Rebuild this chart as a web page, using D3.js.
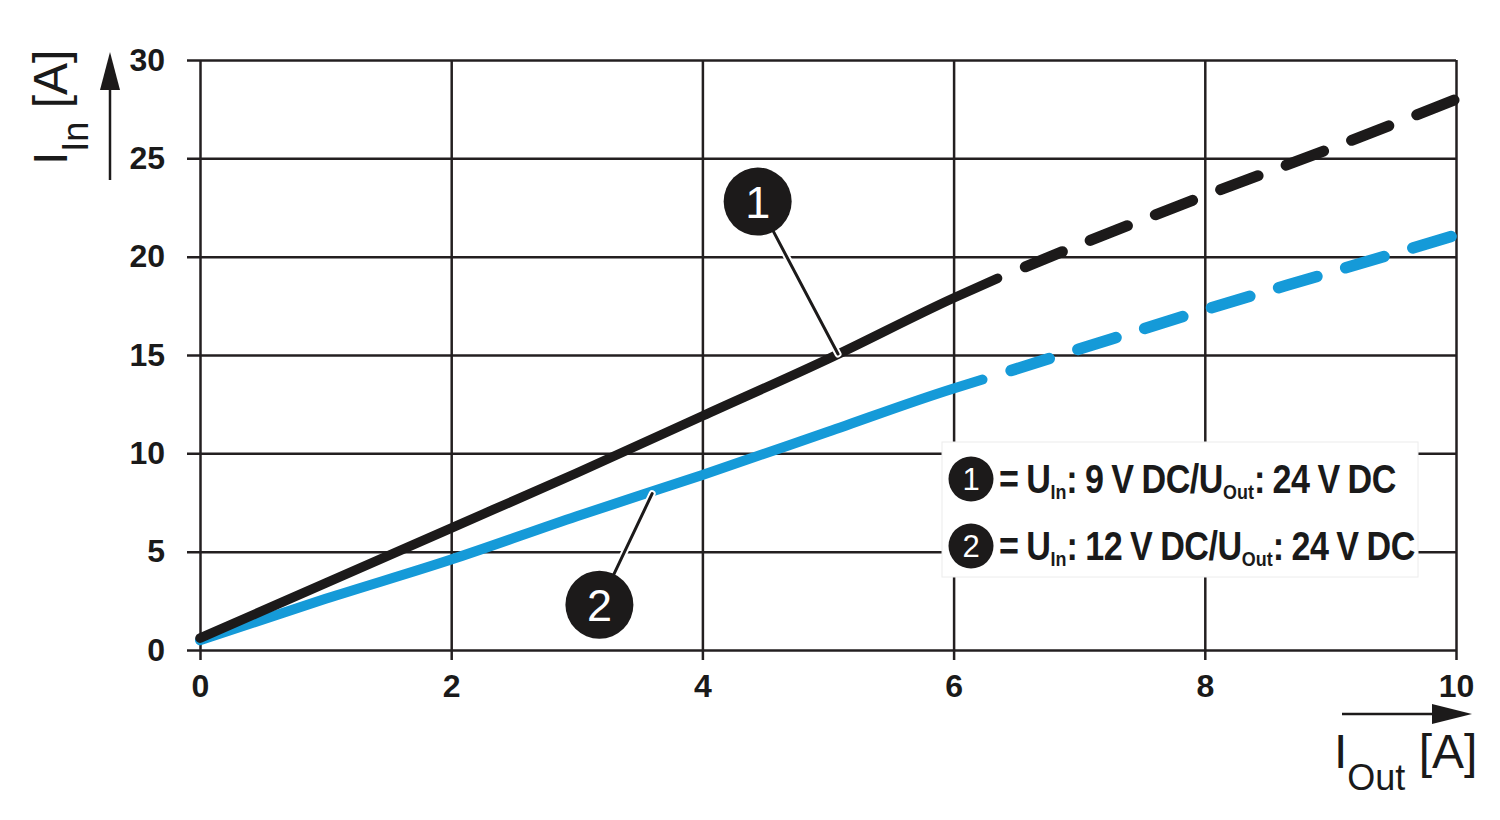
<!DOCTYPE html>
<html>
<head>
<meta charset="utf-8">
<script src="https://cdn.jsdelivr.net/npm/d3@7"></script>
<style>
  html, body { margin: 0; padding: 0; background: #fff; }
  svg { display: block; font-family: "Liberation Sans", Arial, Helvetica, sans-serif; }
</style>
</head>
<body>
<svg id="chart" width="1500" height="820"></svg>
<script>
// ---- data ----
const xTicks = [0, 2, 4, 6, 8, 10];
const yTicks = [0, 5, 10, 15, 20, 25, 30];

// Series 1: U_In 9 V DC / U_Out 24 V DC (black)
const s1Solid = [[0, 0.6], [1, 3.4], [2, 6.2], [3, 9.0], [4, 11.9], [5, 14.8], [6, 17.9], [6.35, 18.9]];
const s1Dashed = [[6.35, 18.9], [7, 20.6], [8, 23.1], [9, 25.5], [10, 28.0]];
// Series 2: U_In 12 V DC / U_Out 24 V DC (blue)
const s2Solid = [[0, 0.5], [1, 2.6], [2, 4.6], [3, 6.8], [4, 8.9], [5, 11.1], [6, 13.3], [6.23, 13.75]];
const s2Dashed = [[6.23, 13.75], [7, 15.3], [8, 17.3], [9, 19.2], [10, 21.1]];

const seriesLabels = ["1", "2"];
const legendIn = ["9", "12"];
// callouts: label, circle position (data), leader end on curve (data)
const callouts = [
  { label: "1", cx: 4.44, cy: 22.8, px: 5.08, py: 15.05 },
  { label: "2", cx: 3.18, cy: 2.3, px: 3.6, py: 7.95 }
];

// ---- layout ----
const svg = d3.select("#chart");
const x = d3.scaleLinear().domain([0, 10]).range([200, 1456]);
const y = d3.scaleLinear().domain([0, 30]).range([650, 60]);
const gridColor = "#231f20";
const black = "#1c1a1a";
const blue = "#159ad8";
const font = '"Liberation Sans", Arial, Helvetica, sans-serif';

// horizontal grid lines (extend 13px left of the axis)
const hg = svg.append("g").attr("transform", `translate(${x(0) - 13},0)`)
  .call(d3.axisRight(y).tickValues(yTicks).tickSize(x(10) - x(0) + 13).tickFormat(""));
hg.select(".domain").remove();
hg.selectAll(".tick line").attr("stroke", gridColor).attr("stroke-width", 2.5);

// vertical grid lines (extend 10px below the axis)
const vg = svg.append("g").attr("transform", `translate(0,${y(0) + 10})`)
  .call(d3.axisTop(x).tickValues(xTicks).tickSize(y(0) - y(30) + 10).tickFormat(""));
vg.select(".domain").remove();
vg.selectAll(".tick line").attr("stroke", gridColor).attr("stroke-width", 2.5);

// tick labels
const yl = svg.append("g").attr("transform", `translate(${x(0)},0)`)
  .call(d3.axisLeft(y).tickValues(yTicks).tickSize(0).tickPadding(35));
yl.select(".domain").remove();
yl.selectAll("text").attr("font-family", font).attr("font-size", 32).attr("font-weight", "bold").attr("fill", "#1a1a1a");

const xl = svg.append("g").attr("transform", `translate(0,${y(0)})`)
  .call(d3.axisBottom(x).tickValues(xTicks).tickSize(0).tickPadding(24));
xl.select(".domain").remove();
xl.selectAll("text").attr("font-family", font).attr("font-size", 32).attr("font-weight", "bold").attr("fill", "#1a1a1a");

// curves
const line = d3.line().x(d => x(d[0])).y(d => y(d[1])).curve(d3.curveMonotoneX);
function drawSeries(solid, dashed, color, w) {
  svg.append("path").datum(solid).attr("d", line).attr("fill", "none")
    .attr("stroke", color).attr("stroke-width", w).attr("stroke-linecap", "round");
  svg.append("path").datum(dashed).attr("d", line).attr("fill", "none")
    .attr("stroke", color).attr("stroke-width", w + 1.5).attr("stroke-linecap", "round")
    .attr("stroke-dasharray", "40 30").attr("stroke-dashoffset", -30);
}
drawSeries(s2Solid, s2Dashed, blue, 10);
drawSeries(s1Solid, s1Dashed, black, 9.5);

// callouts
callouts.forEach(c => {
  const cx = x(c.cx), cy = y(c.cy), px = x(c.px), py = y(c.py);
  const ang = Math.atan2(py - cy, px - cx);
  const sx = cx + Math.cos(ang) * 30, sy = cy + Math.sin(ang) * 30;
  svg.append("line").attr("x1", sx).attr("y1", sy).attr("x2", px).attr("y2", py)
    .attr("stroke", "#fff").attr("stroke-width", 7).attr("stroke-linecap", "round");
  svg.append("line").attr("x1", sx).attr("y1", sy).attr("x2", px).attr("y2", py)
    .attr("stroke", black).attr("stroke-width", 3).attr("stroke-linecap", "round");
  svg.append("circle").attr("cx", cx).attr("cy", cy).attr("r", 34).attr("fill", black);
  svg.append("text").attr("x", cx).attr("y", cy + 16).attr("text-anchor", "middle")
    .attr("font-family", font).attr("font-size", 45).attr("fill", "#fff").text(c.label);
});

// legend
const lg = svg.append("g");
lg.append("rect").attr("x", 942).attr("y", 442).attr("width", 476).attr("height", 135)
  .attr("fill", "#fff").attr("stroke", "#ececec").attr("stroke-width", 1);
seriesLabels.forEach((lab, i) => {
  const cy = 479 + i * 67;
  lg.append("circle").attr("cx", 971).attr("cy", cy).attr("r", 22.5).attr("fill", black);
  lg.append("text").attr("x", 971).attr("y", cy + 11).attr("text-anchor", "middle")
    .attr("font-family", font).attr("font-size", 31).attr("fill", "#fff").text(lab);
  const tg = lg.append("g").attr("transform", `translate(999,${cy + 14})`);
  const t = tg.append("text").attr("font-family", font).attr("font-weight", "bold")
    .attr("font-size", 40).attr("fill", "#1a1a1a")
    .attr("letter-spacing", -0.5).attr("word-spacing", -1.5);
  t.append("tspan").text("= U");
  t.append("tspan").attr("font-size", 21).attr("letter-spacing", 0).attr("dy", 6).text("In");
  t.append("tspan").attr("dy", -6).text(`: ${legendIn[i]} V DC/U`);
  t.append("tspan").attr("font-size", 21).attr("letter-spacing", 0).attr("dy", 6).text("Out");
  t.append("tspan").attr("dy", -6).text(": 24 V DC");
  const w = t.node().getBBox().width;
  const target = i === 0 ? 397 : 416;
  t.attr("transform", `scale(${target / w},1)`);
});

// axis titles
const yTitle = svg.append("text").attr("transform", "translate(67,165) rotate(-90)")
  .attr("font-family", font).attr("font-size", 48).attr("fill", "#1a1a1a");
yTitle.append("tspan").text("I");
yTitle.append("tspan").attr("font-size", 36).attr("dy", 21).text("In");
yTitle.append("tspan").attr("dy", -21).text(" [A]");

const xTitle = svg.append("text").attr("x", 1334).attr("y", 768)
  .attr("font-family", font).attr("font-size", 48).attr("fill", "#1a1a1a");
xTitle.append("tspan").text("I");
xTitle.append("tspan").attr("font-size", 36).attr("dy", 22).text("Out");
xTitle.append("tspan").attr("dy", -22).text(" [A]");

// axis arrows
svg.append("line").attr("x1", 110).attr("y1", 180).attr("x2", 110).attr("y2", 85)
  .attr("stroke", black).attr("stroke-width", 2.5);
svg.append("path").attr("d", "M110,52 L100,90 L120,90 Z").attr("fill", black);
svg.append("line").attr("x1", 1342).attr("y1", 714).attr("x2", 1436).attr("y2", 714)
  .attr("stroke", black).attr("stroke-width", 2.5);
svg.append("path").attr("d", "M1472,714 L1432,704 L1432,724 Z").attr("fill", black);
</script>
</body>
</html>
